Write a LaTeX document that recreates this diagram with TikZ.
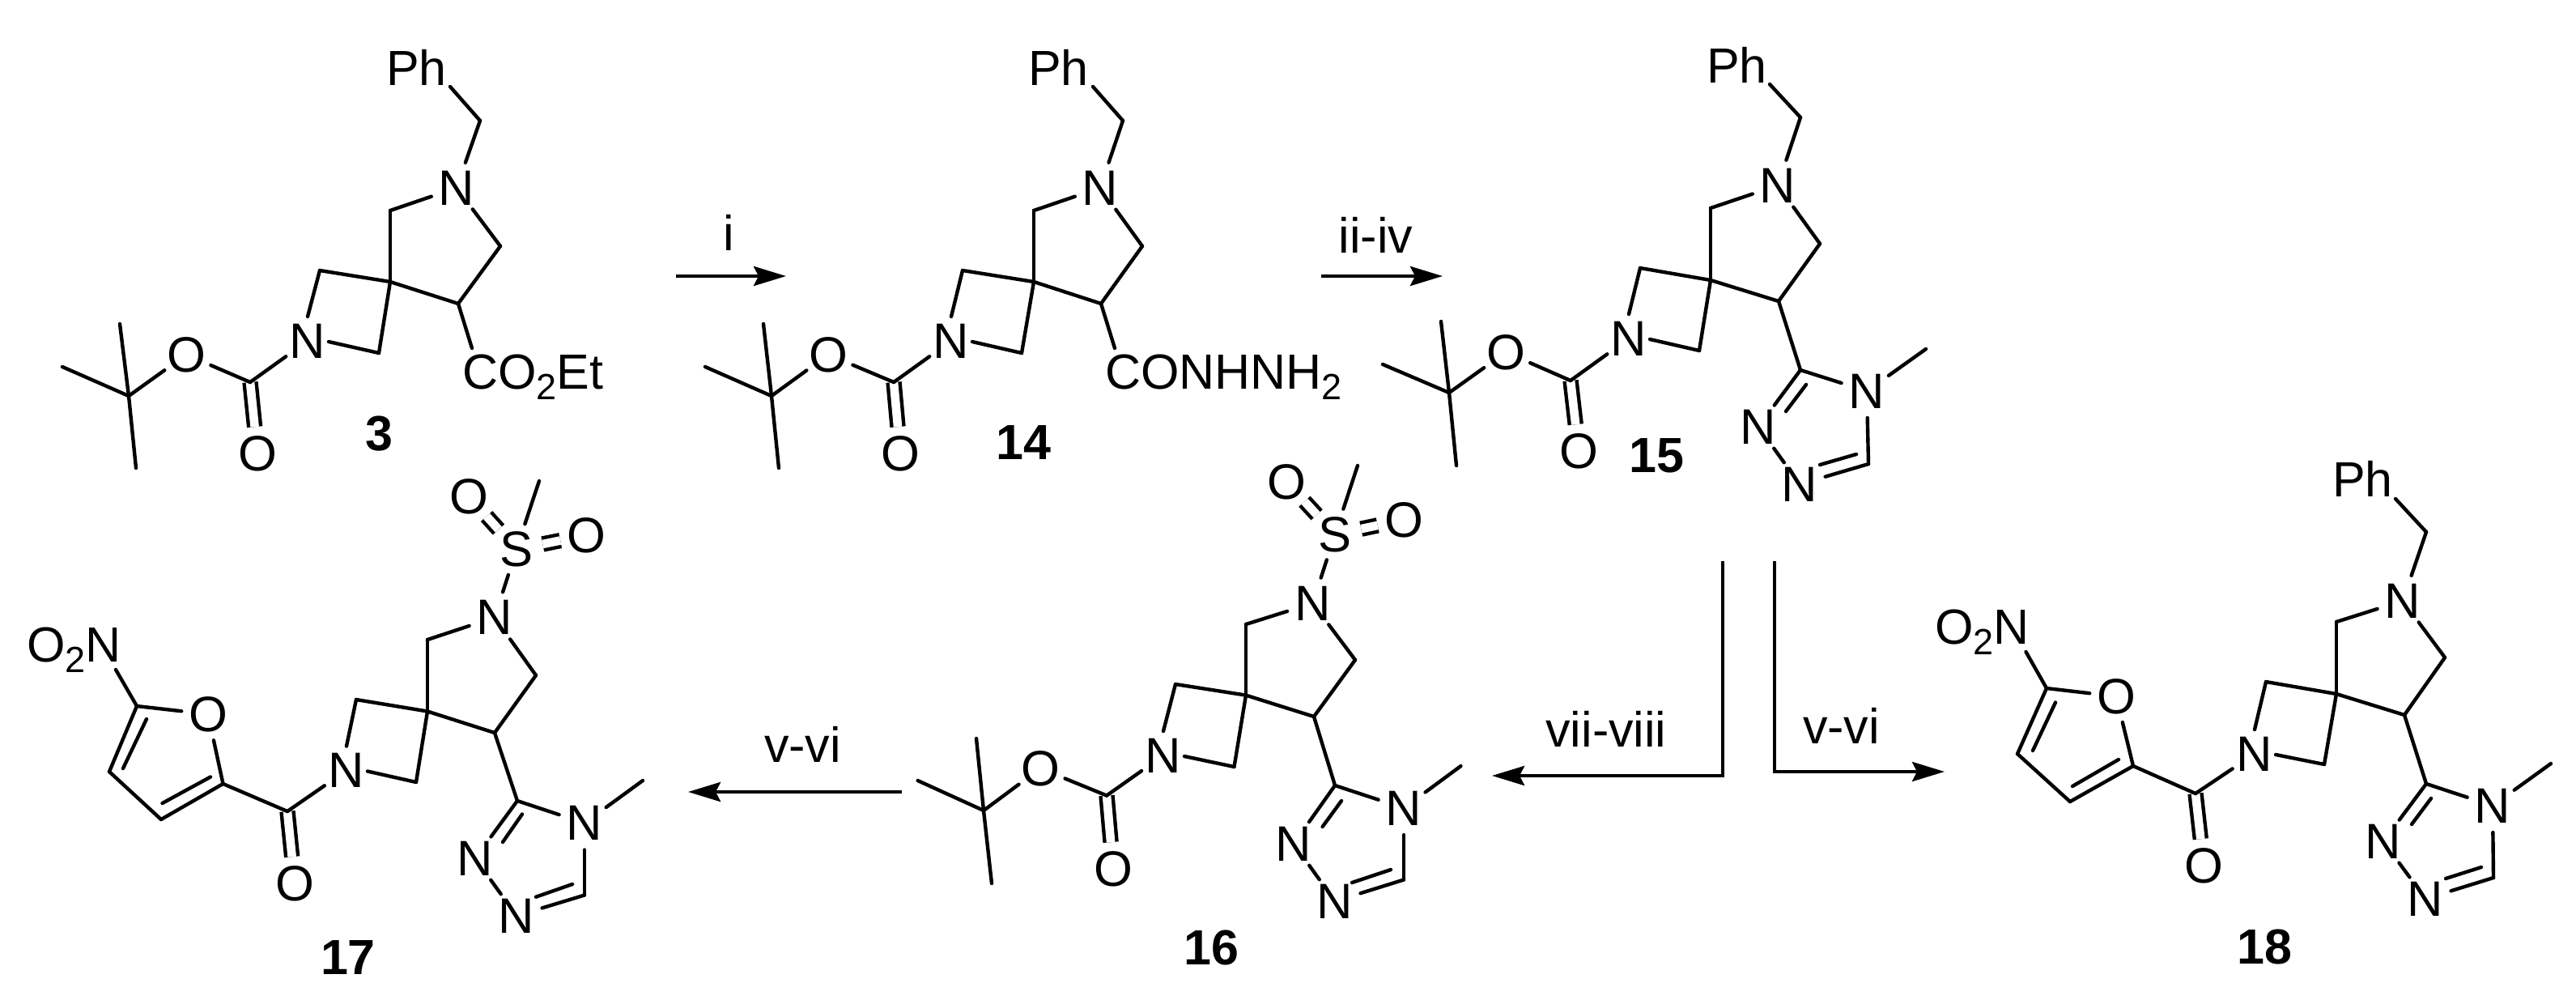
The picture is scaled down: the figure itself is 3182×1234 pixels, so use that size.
\documentclass[tikz,border=0pt]{standalone}
\usepackage{fontspec}
\setmainfont{Liberation Sans}
\usetikzlibrary{arrows.meta}
\newcommand\lowtwo{\raisebox{-13pt}{\fontsize{45}{45}\selectfont 2}}
\newcommand\crd[2]{\coordinate (#1) at (#2);}
\newcommand\atm[3]{\node[atom] (#1) at (#2) {#3};}
\tikzset{
  bond/.style={draw=black,line width=4.4pt,line cap=round,line join=round},
  dbl/.style={draw=black,line width=4.4pt,line cap=butt,double=white,double distance=10.6pt},
  atom/.style={circle,inner sep=0pt,outer sep=0pt,minimum size=66pt,font=\fontsize{61.5}{66}\selectfont},
  group/.style={anchor=base west,inner sep=0pt,outer sep=0pt,font=\fontsize{61}{66}\selectfont},
  cpd/.style={inner sep=0pt,outer sep=0pt,font=\fontsize{61}{66}\selectfont\bfseries},
  rxn/.style={anchor=base,inner sep=0pt,outer sep=0pt,font=\fontsize{61}{66}\selectfont},
  arw/.style={draw=black,line width=4.4pt,line join=miter,-{Stealth[length=40pt,width=24pt,inset=6pt]}}
}
% shared pieces of the six molecules
\newcommand\coreb[1]{%
  \draw[dbl] (#1CO)--(#1OD);
  \foreach \a/\b in {NR/CA,CA/SP,SP/C4,C4/CB,CB/NR,SP/AT,NB/CO,AB/SP}{\draw[bond] (#1\a)--(#1\b);}
  \draw[bond] (#1AT)--([yshift=30pt]#1NB.center);
  \draw[bond] ([xshift=26pt,yshift=-1pt]#1NB.center)--(#1AB);}
\newcommand\bocb[1]{%
  \foreach \a/\b in {CO/OE,OE/TB,TB/M1,TB/M2,TB/M3}{\draw[bond] (#1\a)--(#1\b);}}
\newcommand\bnb[1]{%
  \foreach \a/\b in {NR/CH,CH/PE}{\draw[bond] (#1\a)--(#1\b);}}
\newcommand\trzb[1]{%
  \foreach \a/\b in {C4/TC,TC/N4,N4/ME,N4/C5,C5/N1,N1/N2,N2/TC}{\draw[bond] (#1\a)--(#1\b);}}
\newcommand\msb[1]{%
  \draw[dbl] (#1S)--(#1O1); \draw[dbl] (#1S)--(#1O2);
  \foreach \a/\b in {NR/S,S/MS}{\draw[bond] (#1\a)--(#1\b);}}
\newcommand\furb[1]{%
  \foreach \a/\b in {CO/F2,F2/FO,FO/F5,F5/F4,F4/F3,F3/F2,F5/NE}{\draw[bond] (#1\a)--(#1\b);}}
\begin{document}
\begin{tikzpicture}[x=1pt,y=-1pt]
\useasboundingbox (0,0) rectangle (3182,1234);

% ---------- compound 3
\node[group] (aPh) at (477,105) {Ph};
\crd{aPE}{556,107}\crd{aCH}{593,149}\atm{aNR}{564,232}{N}
\crd{aCA}{482,260}\crd{aCB}{618,304}\crd{aC4}{566,375}\crd{aSP}{482,348}
\crd{aAT}{395,334}\crd{aAB}{468,436}\atm{aNB}{380,421}{N}
\crd{aCO}{309,472}\atm{aOD}{318,560}{O}\atm{aOE}{230,438}{O}
\crd{aTB}{159,489}\crd{aM1}{148,400}\crd{aM2}{77,453}\crd{aM3}{168,578}
\node[group] (aR) at (571,480) {CO\lowtwo Et};
\crd{aRE}{583,430}
\coreb{a}\bocb{a}\bnb{a}
\draw[bond] (aC4)--(aRE);
\node[cpd] (aLab) at (468,536) {3};

% ---------- compound 14
\node[group] (bPh) at (1270,105) {Ph};
\crd{bPE}{1350,107}\crd{bCH}{1387,149}\atm{bNR}{1359,232}{N}
\crd{bCA}{1277,260}\crd{bCB}{1411,304}\crd{bC4}{1360,375}\crd{bSP}{1277,348}
\crd{bAT}{1189,334}\crd{bAB}{1262,436}\atm{bNB}{1175,421}{N}
\crd{bCO}{1104,472}\atm{bOD}{1112,560}{O}\atm{bOE}{1023,438}{O}
\crd{bTB}{953,489}\crd{bM1}{943,400}\crd{bM2}{871,453}\crd{bM3}{962,578}
\node[group] (bR) at (1365,480) {CONHNH\lowtwo};
\crd{bRE}{1377,430}
\coreb{b}\bocb{b}\bnb{b}
\draw[bond] (bC4)--(bRE);
\node[cpd] (bLab) at (1264,547) {14};

% ---------- compound 15
\node[group] (cPh) at (2108,102) {Ph};
\crd{cPE}{2186,104}\crd{cCH}{2224,145}\atm{cNR}{2196,229}{N}
\crd{cCA}{2113,257}\crd{cCB}{2248,301}\crd{cC4}{2197,372}\crd{cSP}{2113,346}
\crd{cAT}{2026,331}\crd{cAB}{2099,433}\atm{cNB}{2012,418}{N}
\crd{cCO}{1940,470}\atm{cOD}{1950,557}{O}\atm{cOE}{1860,435}{O}
\crd{cTB}{1790,485}\crd{cM1}{1780,397}\crd{cM2}{1708,450}\crd{cM3}{1799,575}
\crd{cTC}{2224,457}\atm{cN4}{2306,483}{N}\crd{cME}{2379,431}
\atm{cN2}{2172,527}{N}\atm{cN1}{2223,598}{N}\crd{cC5}{2308,573}
\coreb{c}\bocb{c}\bnb{c}\trzb{c}
\draw[bond] (2231,475)--(2206,508);
\draw[bond] (2293,561)--(2248,574);
\node[cpd] (cLab) at (2046,563) {15};

% ---------- compound 16
\atm{dS}{1649,660}{S}\atm{dO1}{1589,595}{O}\atm{dO2}{1734,642}{O}\crd{dMS}{1677,575}
\atm{dNR}{1621.5,745}{N}
\crd{dCA}{1539,771}\crd{dCB}{1674,815}\crd{dC4}{1623,885}\crd{dSP}{1539,858.6}
\crd{dAT}{1452,845}\crd{dAB}{1524.5,947}\atm{dNB}{1437,933}{N}
\crd{dCO}{1367,982.5}\atm{dOD}{1375,1073}{O}\atm{dOE}{1285,949}{O}
\crd{dTB}{1215,1001}\crd{dM1}{1206,912}\crd{dM2}{1133.6,964}\crd{dM3}{1225,1091}
\crd{dTC}{1649,970}\atm{dN4}{1734,998}{N}\crd{dME}{1804.5,946}
\atm{dN2}{1598,1042}{N}\atm{dN1}{1649,1113}{N}\crd{dC5}{1734,1086.5}
\coreb{d}\bocb{d}\msb{d}\trzb{d}
\draw[bond] (1657,989)--(1633.6,1021);
\draw[bond] (1718,1074)--(1670,1090);
\node[cpd] (dLab) at (1496,1170) {16};

% ---------- compound 17
\atm{eS}{638,678.5}{S}\atm{eO1}{579,613}{O}\atm{eO2}{724.5,661}{O}\crd{eMS}{666,594}
\atm{eNR}{611,762.6}{N}
\crd{eCA}{528,790}\crd{eCB}{662,834}\crd{eC4}{611,905}\crd{eSP}{528,878.5}
\crd{eAT}{440,864}\crd{eAB}{514,966}\atm{eNB}{428,951.5}{N}
\crd{eCO}{355,1002}\atm{eOD}{364,1091}{O}
\crd{eF2}{275.5,968}\atm{eFO}{257,882}{O}\crd{eF5}{169,872}\crd{eF4}{135,953}\crd{eF3}{199,1012}
\node[group] (eNO) at (33,817) {O\lowtwo N};
\crd{eNE}{143,827}
\crd{eTC}{639,989}\atm{eN4}{722,1016.5}{N}\crd{eME}{794,964}
\atm{eN2}{587,1060}{N}\atm{eN1}{638,1131}{N}\crd{eC5}{722,1105.5}
\coreb{e}\msb{e}\furb{e}\trzb{e}
\draw[bond] (181,888)--(152,949);
\draw[bond] (260,959.5)--(200.5,992);
\draw[bond] (645,1005.5)--(621,1040);
\draw[bond] (707,1092)--(662,1107.7);
\node[cpd] (eLab) at (430,1182) {17};

% ---------- compound 18
\node[group] (fPh) at (2881,613) {Ph};
\crd{fPE}{2959,616}\crd{fCH}{2997,657}\atm{fNR}{2968,742}{N}
\crd{fCA}{2886,768}\crd{fCB}{3020,812}\crd{fC4}{2970,883}\crd{fSP}{2886,857}
\crd{fAT}{2799,842}\crd{fAB}{2871,944}\atm{fNB}{2785,931}{N}
\crd{fCO}{2712,980}\atm{fOD}{2722,1069}{O}
\crd{fF2}{2635,946}\atm{fFO}{2614,860}{O}\crd{fF5}{2528,850}\crd{fF4}{2492,931}\crd{fF3}{2557,990}
\node[group] (fNO) at (2390,795) {O\lowtwo N};
\crd{fNE}{2502.5,805}
\crd{fTC}{2997,968}\atm{fN4}{3079,995}{N}\crd{fME}{3151,943}
\atm{fN2}{2944,1039}{N}\atm{fN1}{2996,1110}{N}\crd{fC5}{3080,1084}
\coreb{f}\bnb{f}\furb{f}\trzb{f}
\draw[bond] (2539,867.5)--(2511,927);
\draw[bond] (2617,938)--(2560,971);
\draw[bond] (3003,986)--(2979,1018);
\draw[bond] (3065,1071)--(3021,1085);
\node[cpd] (fLab) at (2797,1169) {18};

% ---------- reaction arrows
\crd{r1s}{835,341}\crd{r1e}{971,341}
\draw[arw] (r1s)--(r1e);
\node[rxn] (r1t) at (900,309) {i};
\crd{r2s}{1632,341}\crd{r2e}{1782,341}
\draw[arw] (r2s)--(r2e);
\node[rxn] (r2t) at (1699.5,312) {ii-iv};
\crd{r3s}{1114,978}\crd{r3e}{850,978}
\draw[arw] (r3s)--(r3e);
\node[rxn] (r3t) at (991.5,941) {v-vi};
\crd{r4s}{2128,693}\crd{r4c}{2128,958}\crd{r4e}{1843,958}
\draw[arw] (r4s)--(r4c)--(r4e);
\node[rxn] (r4t) at (1984,922) {vii-viii};
\crd{r5s}{2192,693}\crd{r5c}{2192,953}\crd{r5e}{2402,953}
\draw[arw] (r5s)--(r5c)--(r5e);
\node[rxn] (r5t) at (2274.5,918) {v-vi};
\end{tikzpicture}
\end{document}
